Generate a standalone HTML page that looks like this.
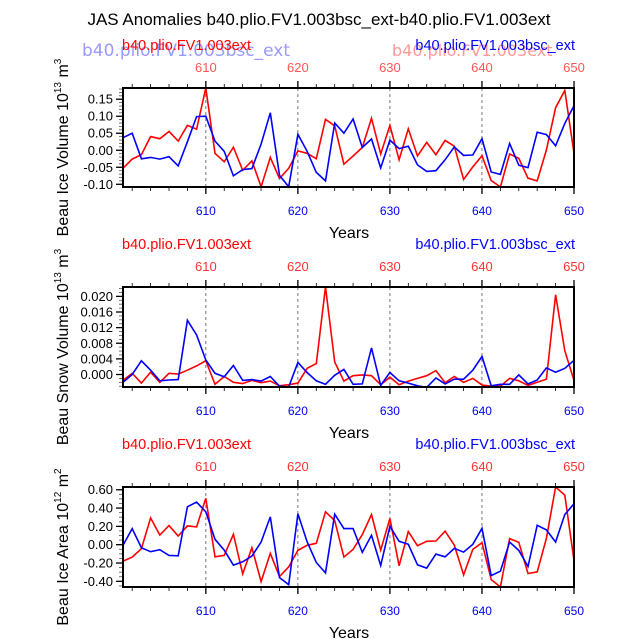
<!DOCTYPE html>
<html><head><meta charset="utf-8"><style>
body{margin:0;background:#fff;}
svg{display:block;font-family:"Liberation Sans",sans-serif;}
</style></head><body>
<svg id="chart" width="638" height="639" viewBox="0 0 638 639">
<text x="319" y="25" text-anchor="middle" font-size="17">JAS Anomalies b40.plio.FV1.003bsc_ext-b40.plio.FV1.003ext</text>
</svg>
<script>
const years = Array.from({length:50},(_,i)=>601+i);
const xTicks = [610,620,630,640,650];
const iceRed = [-0.053,-0.026,-0.013,0.04,0.034,0.055,0.027,0.073,0.062,0.183,-0.009,-0.034,0.009,-0.059,-0.031,-0.107,-0.021,-0.083,-0.053,-0.002,-0.009,-0.025,0.091,0.072,-0.041,-0.017,0.008,0.094,-0.011,0.073,-0.028,0.063,-0.017,0.023,-0.013,0.029,0.012,-0.086,-0.049,-0.016,-0.089,-0.108,-0.011,-0.024,-0.082,-0.09,0.001,0.125,0.176,-0.009];
const iceBlue = [0.037,0.05,-0.025,-0.021,-0.026,-0.019,-0.046,0.025,0.099,0.1,0.027,-0.003,-0.075,-0.057,-0.054,0.018,0.11,-0.074,-0.107,0.047,-0.003,-0.065,-0.09,0.08,0.05,0.092,0.008,0.033,-0.052,0.03,0.005,0.012,-0.043,-0.062,-0.06,-0.028,0.01,-0.015,-0.014,0.034,-0.064,-0.071,0.02,-0.044,-0.051,0.053,0.046,0.013,0.079,0.131];
const snowRed = [-0.0015,0.0003,-0.0022,0.0006,-0.002,0.0003,0.0001,0.0011,0.0022,0.0035,-0.0025,-0.0005,-0.002,-0.0023,-0.0015,-0.0021,-0.0017,-0.0029,-0.0026,-0.0022,0.0016,0.0028,0.0224,0.0032,-0.0017,-0.0003,-0.0001,-0.0003,-0.0026,-0.0007,-0.0026,-0.0017,-0.001,-0.0003,0.001,-0.0021,-0.0005,-0.002,-0.001,-0.0027,-0.003,-0.003,-0.001,-0.0016,-0.0028,-0.002,-0.0012,0.0204,0.0061,-0.0015];
const snowBlue = [-0.002,0,0.0035,0.0011,-0.0016,-0.0014,-0.0013,0.0139,0.0101,0.0037,0.0003,-0.0006,0.0023,-0.0015,-0.0013,-0.0017,-0.0005,-0.003,-0.0032,0.0031,0.0005,-0.0016,-0.0025,-0.0002,0.0013,-0.0025,-0.0024,0.0068,-0.0028,0.0005,-0.0016,-0.0022,-0.0029,-0.0033,-0.0009,-0.0024,-0.0012,-0.0012,0.0011,0.0046,-0.0029,-0.0025,-0.0025,-0.0001,-0.0024,-0.0014,0.0017,0.0006,0.0016,0.0036];
const areaRed = [-0.18,-0.136,-0.044,0.293,0.106,0.209,0.095,0.205,0.194,0.505,-0.132,-0.117,0.114,-0.319,-0.033,-0.403,-0.095,-0.348,-0.242,-0.062,-0.007,0.015,0.359,0.264,-0.136,-0.051,0.11,0.33,-0.059,0.286,-0.231,0.143,-0.011,0.037,0.04,0.147,-0.004,-0.33,-0.051,0.022,-0.381,-0.462,0.066,0.026,-0.315,-0.297,0.07,0.63,0.542,-0.172];
const areaBlue = [-0.007,0.176,-0.033,-0.077,-0.055,-0.117,-0.121,0.414,0.465,0.359,0.059,-0.059,-0.223,-0.187,-0.125,0.029,0.304,-0.359,-0.436,0.337,0.033,-0.194,-0.308,0.333,0.176,0.176,-0.084,0.103,-0.227,0.201,0.037,0.004,-0.22,-0.256,-0.103,-0.132,-0.04,-0.081,0.004,0.179,-0.337,-0.289,0.029,-0.062,-0.238,0.212,0.161,0.029,0.33,0.447];
const iceTicks = [0.15,0.10,0.05,0.00,-0.05,-0.10];
const snowTicks = [0.020,0.016,0.012,0.008,0.004,0.000];
const areaTicks = [0.60,0.40,0.20,0.00,-0.20,-0.40];

const NS='http://www.w3.org/2000/svg';
const svg=document.getElementById('chart');
const X0=123,X1=574;
function xs(y){return X0+(y-601)/(650-601)*(X1-X0);}
function mk(tag,attrs,parent){const e=document.createElementNS(NS,tag);for(const k in attrs)e.setAttribute(k,attrs[k]);(parent||svg).appendChild(e);return e;}

const panels=[
 {key:'ice',top:88,bot:187,ymin:-0.108,ymax:0.183,ticks:iceTicks,dec:2,minor:0.01,red:iceRed,blue:iceBlue,title:'Beau Ice Volume 10',exp:'13',unit:' m',uexp:'3',faint:true},
 {key:'snow',top:287,bot:387,ymin:-0.0032,ymax:0.0224,ticks:snowTicks,dec:3,minor:0.001,red:snowRed,blue:snowBlue,title:'Beau Snow Volume 10',exp:'13',unit:' m',uexp:'3'},
 {key:'area',top:487,bot:587,ymin:-0.462,ymax:0.63,ticks:areaTicks,dec:2,minor:0.05,red:areaRed,blue:areaBlue,title:'Beau Ice Area 10',exp:'12',unit:' m',uexp:'2'}
];
panels.forEach(p=>{
 const g=mk('g',{});
 
 
 const ys=v=>p.bot-(v-p.ymin)/(p.ymax-p.ymin)*(p.bot-p.top);
 if(p.faint){
  const f1=mk('text',{x:82,y:56,'font-size':17,fill:'#99f','font-family':'DejaVu Sans, sans-serif'},g);f1.textContent='b40.plio.FV1.003bsc_ext';
  
  const f2=mk('text',{x:392,y:56,'font-size':16,fill:'#f99','font-family':'DejaVu Sans, sans-serif'},g);f2.textContent='b40.plio.FV1.003ext';
  
 }
 xTicks.slice(0,4).forEach(t=>{const l=mk('line',{x1:xs(t),x2:xs(t),y1:p.top,y2:p.bot,stroke:'#555','stroke-width':0.8,'stroke-dasharray':'3,3'},g);
  });
 for(let y=602;y<=650;y+=2){const maj=y%10===0;const len=maj?7:4;
  mk('line',{x1:xs(y),x2:xs(y),y1:p.bot,y2:p.bot+len,stroke:'#000','stroke-width':maj?1.3:0.8},g);
  mk('line',{x1:xs(y),x2:xs(y),y1:p.top,y2:p.top-len,stroke:'#000','stroke-width':maj?1.3:0.8},g);}
 xTicks.forEach(t=>{
  const b=mk('text',{x:xs(t),y:p.bot+28,'text-anchor':'middle','font-size':12,fill:'#00f'},g);b.textContent=t;
  
  const r=mk('text',{x:xs(t),y:p.top-16,'text-anchor':'middle','font-size':13,fill:p.faint?'#f55':'#f33'},g);r.textContent=t;
  
 });
 for(let v=Math.ceil(p.ymin/p.minor)*p.minor;v<=p.ymax+1e-9;v+=p.minor){mk('line',{x1:X0-4,x2:X0,y1:ys(v),y2:ys(v),stroke:'#555','stroke-width':0.8},g);}
 p.ticks.forEach(t=>{mk('line',{x1:X0-7,x2:X0,y1:ys(t),y2:ys(t),stroke:'#000','stroke-width':1.3},g);
  const tx=mk('text',{x:X0-10,y:ys(t)+4.5,'text-anchor':'end','font-size':13},g);tx.textContent=t.toFixed(p.dec);
  });
 [['red','#f00'],['blue','#00f']].forEach(([k,c])=>{
  const pts=p[k].map((v,i)=>xs(years[i]).toFixed(1)+','+ys(v).toFixed(1)).join(' ');
  const pl=mk('polyline',{points:pts,fill:'none',stroke:c,'stroke-width':1.6,'stroke-linejoin':'miter'},g);
  
 });
 const fr=mk('rect',{x:X0,y:p.top,width:X1-X0,height:p.bot-p.top,fill:'none',stroke:'#000','stroke-width':2},g);
 
 const yr=mk('text',{x:349,y:p.bot+51,'text-anchor':'middle','font-size':16},g);yr.textContent='Years';
 
 const cy=(p.top+p.bot)/2+10;
 const yt=mk('text',{x:0,y:0,'text-anchor':'middle','font-size':16,transform:`translate(68,${cy}) rotate(-90)`},g);
 yt.innerHTML=p.title+'<tspan dy="-7" font-size="10">'+p.exp+'</tspan><tspan dy="7">'+p.unit+'</tspan><tspan dy="-7" font-size="10">'+p.uexp+'</tspan>';
 
 const lr=mk('text',{x:122,y:p.top-38,'font-size':14.5,fill:'#f00'},g);lr.textContent='b40.plio.FV1.003ext';
 
 const lb=mk('text',{x:575,y:p.top-38,'text-anchor':'end','font-size':14.5,fill:'#00f'},g);lb.textContent='b40.plio.FV1.003bsc_ext';
 
});
</script>
</body></html>
